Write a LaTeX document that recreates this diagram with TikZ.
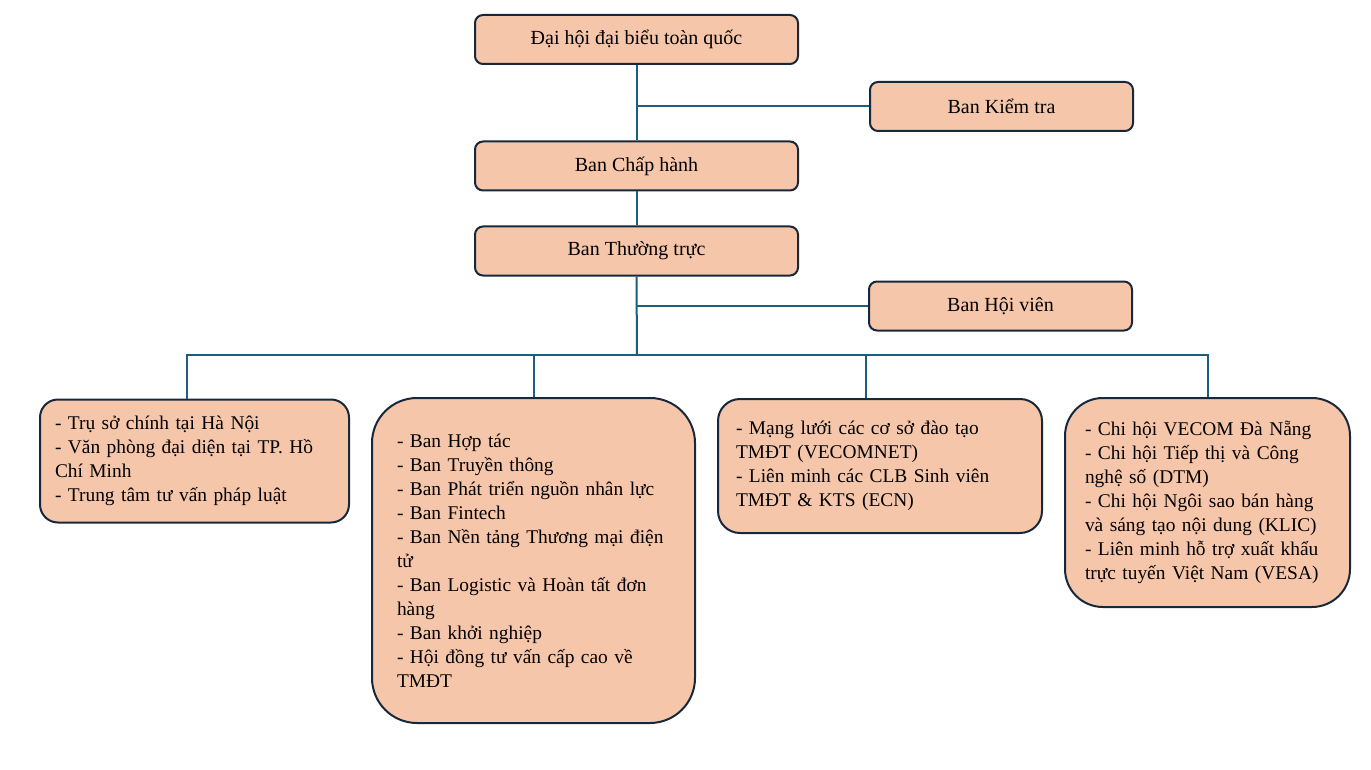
\documentclass[tikz,border=0pt]{standalone}
\usepackage{fontspec}
\setmainfont{Liberation Serif}
\usetikzlibrary{positioning}
\definecolor{peach}{HTML}{F6C6AB}
\definecolor{edge}{HTML}{17283A}
\definecolor{link}{HTML}{1D5E7E}
\tikzset{
  unit/.style={draw=edge, line width=2pt, fill=peach, rounded corners=8pt,
    minimum width=323pt, minimum height=49pt, inner sep=0pt,
    font=\fontsize{20}{24}\selectfont},
  side/.style={unit, minimum width=263pt},
  list/.style={draw=edge, line width=2pt, fill=peach, align=left, inner ysep=0pt,
    font=\fontsize{19.4}{24}\selectfont},
  wire/.style={draw=link, line width=2pt}
}
\begin{document}
\begin{tikzpicture}[x=1pt,y=-1pt]
\useasboundingbox (0,0) rectangle (1371,770);
\node[unit] (dh) at (636.5,39.5) {Đại hội đại biểu toàn quốc};
\node[side] (kt) at (1001.5,106.5) {Ban Kiểm tra};
\node[unit] (ch) at (636.5,166) {Ban Chấp hành};
\node[unit] (tt) at (636.5,251) {Ban Thường trực};
\node[side] (hv) at (1000.5,306) {Ban Hội viên};
% bottom row
\node[list, rounded corners=18pt, text width=279pt, inner xsep=15pt, minimum height=123pt]
  (b1) at (194.5,461) {- Trụ sở chính tại Hà Nội\\- Văn phòng đại diện tại TP. Hồ\\Chí Minh\\- Trung tâm tư vấn pháp luật};
\node[list, rounded corners=45pt, text width=273pt, inner xsep=25pt, minimum height=325pt]
  (b2) at (533.5,560.5) {- Ban Hợp tác\\- Ban Truyền thông\\- Ban Phát triển nguồn nhân lực\\- Ban Fintech\\- Ban Nền tảng Thương mại điện\\tử\\- Ban Logistic và Hoàn tất đơn\\hàng\\- Ban khởi nghiệp\\- Hội đồng tư vấn cấp cao về\\TMĐT};
\node[list, rounded corners=22pt, text width=288pt, inner xsep=18pt, minimum height=134pt]
  (b3) at (880,466) {- Mạng lưới các cơ sở đào tạo\\TMĐT (VECOMNET)\\- Liên minh các CLB Sinh viên\\TMĐT \& KTS (ECN)};
\node[list, rounded corners=38pt, text width=245pt, inner xsep=20pt, minimum height=209pt]
  (b4) at (1207.5,502.5) {- Chi hội VECOM Đà Nẵng\\- Chi hội Tiếp thị và Công\\nghệ số (DTM)\\- Chi hội Ngôi sao bán hàng\\và sáng tạo nội dung (KLIC)\\- Liên minh hỗ trợ xuất khẩu\\trực tuyến Việt Nam (VESA)};
% connectors
\coordinate (bus) at (637,355);
\coordinate (d1) at ([xshift=-8pt]b1.north);
\coordinate (d3) at ([xshift=-14pt]b3.north);
\draw[wire] (dh.south) -- (ch.north);
\draw[wire] (dh.south |- kt.west) -- (kt.west);
\draw[wire] (ch.south) -- (tt.north);
\draw[wire] (tt.south) -- (bus);
\draw[wire] (tt.south |- hv.west) -- (hv.west);
\draw[wire] (d1) -- (bus -| d1) -- (bus -| b4.north) -- (b4.north);
\draw[wire] (bus -| b2.north) -- (b2.north);
\draw[wire] (bus -| d3) -- (d3);
\end{tikzpicture}
\end{document}
